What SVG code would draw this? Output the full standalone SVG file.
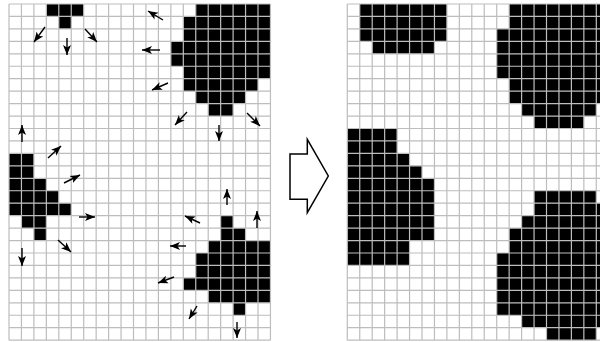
<svg xmlns="http://www.w3.org/2000/svg" width="600" height="342" viewBox="0 0 600 342">
<style>
.grid{fill:none;stroke:#bdbdbd;stroke-width:1.2;vector-effect:non-scaling-stroke}
.cell{fill:#000}
.arr{stroke:#000;stroke-width:1.4;fill:none;marker-end:url(#ah)}
</style>
<defs>
<marker id="ah" viewBox="0 0 10 8" refX="10" refY="4" markerWidth="10" markerHeight="8.5" markerUnits="userSpaceOnUse" orient="auto">
<path d="M0,0 L10,4 L0,8 L2.5,4 z" fill="#000"/>
</marker>
<path id="gridlines" class="grid" d="M0 0V27M1 0V27M2 0V27M3 0V27M4 0V27M5 0V27M6 0V27M7 0V27M8 0V27M9 0V27M10 0V27M11 0V27M12 0V27M13 0V27M14 0V27M15 0V27M16 0V27M17 0V27M18 0V27M19 0V27M20 0V27M21 0V27M0 0H21M0 1H21M0 2H21M0 3H21M0 4H21M0 5H21M0 6H21M0 7H21M0 8H21M0 9H21M0 10H21M0 11H21M0 12H21M0 13H21M0 14H21M0 15H21M0 16H21M0 17H21M0 18H21M0 19H21M0 20H21M0 21H21M0 22H21M0 23H21M0 24H21M0 25H21M0 26H21M0 27H21"/>
</defs>
<rect width="600" height="342" fill="#fff"/>

<g id="left-grid" transform="translate(9,4) scale(12.45)">
<g id="left-blob-a" class="cell">
<rect x="3" y="0" width="3" height="1"/>
<rect x="4" y="1" width="1" height="1"/>
</g>
<g id="left-blob-b" class="cell">
<rect x="15" y="0" width="6" height="1"/>
<rect x="14" y="1" width="7" height="2"/>
<rect x="13" y="3" width="8" height="2"/>
<rect x="14" y="5" width="7" height="1"/>
<rect x="14" y="6" width="6" height="1"/>
<rect x="15" y="7" width="4" height="1"/>
<rect x="16" y="8" width="2" height="1"/>
</g>
<g id="left-blob-c" class="cell">
<rect x="0" y="12" width="2" height="2"/>
<rect x="0" y="14" width="3" height="1"/>
<rect x="0" y="15" width="4" height="1"/>
<rect x="0" y="16" width="5" height="1"/>
<rect x="1" y="17" width="2" height="1"/>
<rect x="2" y="18" width="1" height="1"/>
</g>
<g id="left-blob-d" class="cell">
<rect x="17" y="17" width="1" height="1"/>
<rect x="17" y="18" width="2" height="1"/>
<rect x="16" y="19" width="5" height="1"/>
<rect x="15" y="20" width="6" height="2"/>
<rect x="14" y="22" width="7" height="1"/>
<rect x="16" y="23" width="5" height="1"/>
<rect x="18" y="24" width="1" height="1"/>
</g>
<use href="#gridlines"/>
</g>

<g id="right-grid" transform="translate(347.3,4) scale(12.45)">
<g id="right-blob-a" class="cell">
<rect x="1" y="0" width="7" height="3"/>
<rect x="2" y="3" width="5" height="1"/>
</g>
<g id="right-blob-b" class="cell">
<rect x="13" y="0" width="8" height="2"/>
<rect x="12" y="2" width="9" height="4"/>
<rect x="13" y="6" width="8" height="2"/>
<rect x="14" y="8" width="6" height="1"/>
<rect x="15" y="9" width="4" height="1"/>
</g>
<g id="right-blob-c" class="cell">
<rect x="0" y="10" width="4" height="2"/>
<rect x="0" y="12" width="5" height="1"/>
<rect x="0" y="13" width="6" height="1"/>
<rect x="0" y="14" width="7" height="5"/>
<rect x="0" y="19" width="5" height="2"/>
</g>
<g id="right-blob-d" class="cell">
<rect x="15" y="15" width="5" height="1"/>
<rect x="15" y="16" width="6" height="1"/>
<rect x="14" y="17" width="7" height="1"/>
<rect x="13" y="18" width="8" height="2"/>
<rect x="12" y="20" width="9" height="5"/>
<rect x="14" y="25" width="7" height="1"/>
<rect x="16" y="26" width="4" height="1"/>
</g>
<use href="#gridlines"/>
</g>

<g id="connectors">
<line class="arr" x1="45" y1="27" x2="34" y2="42"/>
<line class="arr" x1="67" y1="38" x2="67" y2="55"/>
<line class="arr" x1="85" y1="29" x2="97" y2="42"/>
<line class="arr" x1="163" y1="20" x2="148" y2="11"/>
<line class="arr" x1="160" y1="50" x2="142" y2="50"/>
<line class="arr" x1="168" y1="83" x2="152" y2="90"/>
<line class="arr" x1="187" y1="112" x2="175" y2="125"/>
<line class="arr" x1="219" y1="125" x2="219" y2="141"/>
<line class="arr" x1="247" y1="113" x2="260" y2="126"/>
<line class="arr" x1="22" y1="142" x2="22" y2="125"/>
<line class="arr" x1="48" y1="158" x2="61" y2="146"/>
<line class="arr" x1="64" y1="183" x2="80" y2="175"/>
<line class="arr" x1="79" y1="217" x2="95" y2="217"/>
<line class="arr" x1="58" y1="240" x2="71" y2="252"/>
<line class="arr" x1="22" y1="248" x2="22" y2="266"/>
<line class="arr" x1="227" y1="205" x2="227" y2="189"/>
<line class="arr" x1="257" y1="228" x2="257" y2="211"/>
<line class="arr" x1="200" y1="223" x2="185" y2="216"/>
<line class="arr" x1="186" y1="246" x2="170" y2="246"/>
<line class="arr" x1="174" y1="277" x2="158" y2="283"/>
<line class="arr" x1="197" y1="306" x2="189" y2="319"/>
<line class="arr" x1="237" y1="322" x2="237" y2="338"/>
</g>

<g id="transform-arrow">
<path d="M290,154 H307.3 V139.3 L328.3,176 L307.3,212.7 V199.3 H290 Z" fill="#fff" stroke="#000" stroke-width="1.5" stroke-linejoin="miter"/>
</g>
</svg>
